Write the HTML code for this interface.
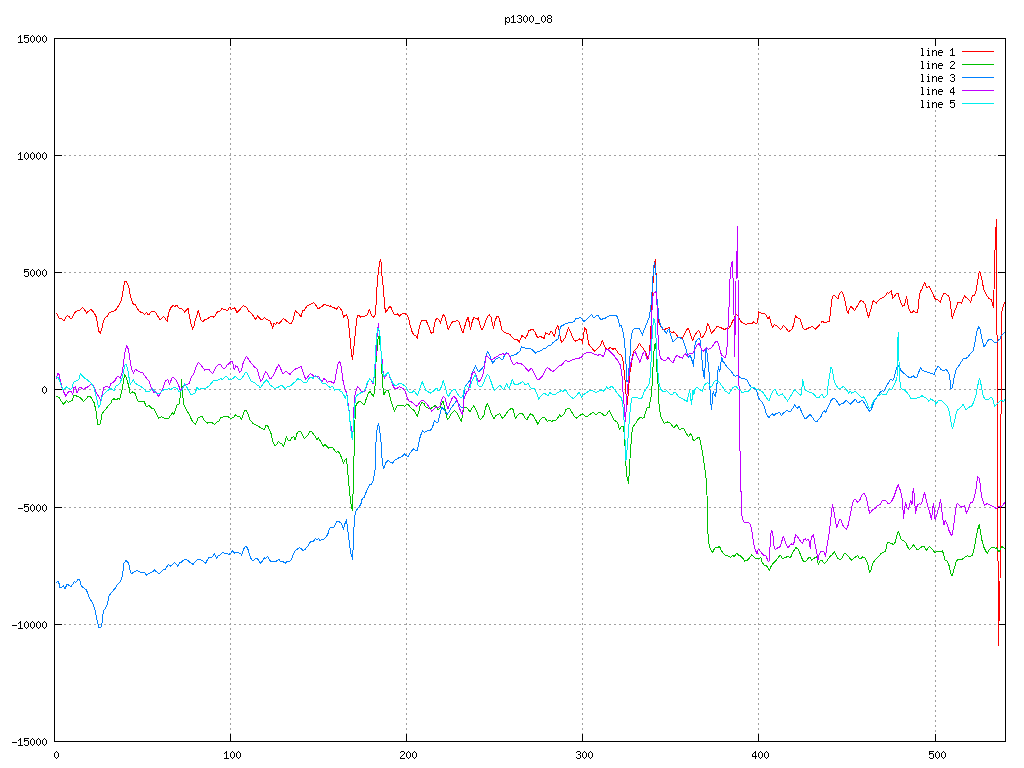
<!DOCTYPE html><html><head><meta charset="utf-8"><style>html,body{margin:0;padding:0;background:#fff;width:1024px;height:768px;overflow:hidden}svg{display:block}text{font-family:"Liberation Mono",monospace;font-size:12px;letter-spacing:-1.2px;fill:transparent;stroke:none}</style></head><body>
<svg width="1024" height="768" viewBox="0 0 1024 768">
<rect width="1024" height="768" fill="#fff"/>
<path d="M54 155.5H1006M54 272.5H1006M54 389.5H1006M54 507.5H1006M54 624.5H1006" stroke="#a0a0a0" stroke-width="1" stroke-dasharray="2 3" fill="none" shape-rendering="crispEdges"/>
<path d="M230.5 38V742M406.5 38V742M582.5 38V742M758.5 38V742M935.5 110V742" stroke="#a0a0a0" stroke-width="1" stroke-dasharray="2 3" fill="none" shape-rendering="crispEdges"/>
<path d="M54 38.5h8M1006 38.5h-8M54 155.5h8M1006 155.5h-8M54 272.5h8M1006 272.5h-8M54 389.5h8M1006 389.5h-8M54 507.5h8M1006 507.5h-8M54 624.5h8M1006 624.5h-8M54 741.5h8M1006 741.5h-8M54.5 742v-8M54.5 38v8M230.5 742v-8M230.5 38v8M406.5 742v-8M406.5 38v8M582.5 742v-8M582.5 38v8M758.5 742v-8M758.5 38v8M935.5 742v-8M935.5 38v8" stroke="#000" stroke-width="1" fill="none" shape-rendering="crispEdges"/>
<rect x="54.5" y="38.5" width="951" height="703" stroke="#000" fill="none" shape-rendering="crispEdges"/>
<path d="M20 35h1v1h-1zM19 36h2v1h-2zM18 37h1v1h-1zM20 37h1v1h-1zM20 38h1v1h-1zM20 39h1v1h-1zM20 40h1v1h-1zM20 41h1v1h-1zM18 42h5v1h-5zM24 35h5v1h-5zM24 36h1v1h-1zM24 37h4v1h-4zM24 38h1v1h-1zM28 38h1v1h-1zM28 39h1v1h-1zM28 40h1v1h-1zM24 41h1v1h-1zM28 41h1v1h-1zM25 42h3v1h-3zM32 35h1v1h-1zM31 36h1v1h-1zM33 36h1v1h-1zM30 37h1v1h-1zM34 37h1v1h-1zM30 38h1v1h-1zM34 38h1v1h-1zM30 39h1v1h-1zM34 39h1v1h-1zM30 40h1v1h-1zM34 40h1v1h-1zM31 41h1v1h-1zM33 41h1v1h-1zM32 42h1v1h-1zM38 35h1v1h-1zM37 36h1v1h-1zM39 36h1v1h-1zM36 37h1v1h-1zM40 37h1v1h-1zM36 38h1v1h-1zM40 38h1v1h-1zM36 39h1v1h-1zM40 39h1v1h-1zM36 40h1v1h-1zM40 40h1v1h-1zM37 41h1v1h-1zM39 41h1v1h-1zM38 42h1v1h-1zM44 35h1v1h-1zM43 36h1v1h-1zM45 36h1v1h-1zM42 37h1v1h-1zM46 37h1v1h-1zM42 38h1v1h-1zM46 38h1v1h-1zM42 39h1v1h-1zM46 39h1v1h-1zM42 40h1v1h-1zM46 40h1v1h-1zM43 41h1v1h-1zM45 41h1v1h-1zM44 42h1v1h-1zM20 152h1v1h-1zM19 153h2v1h-2zM18 154h1v1h-1zM20 154h1v1h-1zM20 155h1v1h-1zM20 156h1v1h-1zM20 157h1v1h-1zM20 158h1v1h-1zM18 159h5v1h-5zM26 152h1v1h-1zM25 153h1v1h-1zM27 153h1v1h-1zM24 154h1v1h-1zM28 154h1v1h-1zM24 155h1v1h-1zM28 155h1v1h-1zM24 156h1v1h-1zM28 156h1v1h-1zM24 157h1v1h-1zM28 157h1v1h-1zM25 158h1v1h-1zM27 158h1v1h-1zM26 159h1v1h-1zM32 152h1v1h-1zM31 153h1v1h-1zM33 153h1v1h-1zM30 154h1v1h-1zM34 154h1v1h-1zM30 155h1v1h-1zM34 155h1v1h-1zM30 156h1v1h-1zM34 156h1v1h-1zM30 157h1v1h-1zM34 157h1v1h-1zM31 158h1v1h-1zM33 158h1v1h-1zM32 159h1v1h-1zM38 152h1v1h-1zM37 153h1v1h-1zM39 153h1v1h-1zM36 154h1v1h-1zM40 154h1v1h-1zM36 155h1v1h-1zM40 155h1v1h-1zM36 156h1v1h-1zM40 156h1v1h-1zM36 157h1v1h-1zM40 157h1v1h-1zM37 158h1v1h-1zM39 158h1v1h-1zM38 159h1v1h-1zM44 152h1v1h-1zM43 153h1v1h-1zM45 153h1v1h-1zM42 154h1v1h-1zM46 154h1v1h-1zM42 155h1v1h-1zM46 155h1v1h-1zM42 156h1v1h-1zM46 156h1v1h-1zM42 157h1v1h-1zM46 157h1v1h-1zM43 158h1v1h-1zM45 158h1v1h-1zM44 159h1v1h-1zM24 269h5v1h-5zM24 270h1v1h-1zM24 271h4v1h-4zM24 272h1v1h-1zM28 272h1v1h-1zM28 273h1v1h-1zM28 274h1v1h-1zM24 275h1v1h-1zM28 275h1v1h-1zM25 276h3v1h-3zM32 269h1v1h-1zM31 270h1v1h-1zM33 270h1v1h-1zM30 271h1v1h-1zM34 271h1v1h-1zM30 272h1v1h-1zM34 272h1v1h-1zM30 273h1v1h-1zM34 273h1v1h-1zM30 274h1v1h-1zM34 274h1v1h-1zM31 275h1v1h-1zM33 275h1v1h-1zM32 276h1v1h-1zM38 269h1v1h-1zM37 270h1v1h-1zM39 270h1v1h-1zM36 271h1v1h-1zM40 271h1v1h-1zM36 272h1v1h-1zM40 272h1v1h-1zM36 273h1v1h-1zM40 273h1v1h-1zM36 274h1v1h-1zM40 274h1v1h-1zM37 275h1v1h-1zM39 275h1v1h-1zM38 276h1v1h-1zM44 269h1v1h-1zM43 270h1v1h-1zM45 270h1v1h-1zM42 271h1v1h-1zM46 271h1v1h-1zM42 272h1v1h-1zM46 272h1v1h-1zM42 273h1v1h-1zM46 273h1v1h-1zM42 274h1v1h-1zM46 274h1v1h-1zM43 275h1v1h-1zM45 275h1v1h-1zM44 276h1v1h-1zM44 386h1v1h-1zM43 387h1v1h-1zM45 387h1v1h-1zM42 388h1v1h-1zM46 388h1v1h-1zM42 389h1v1h-1zM46 389h1v1h-1zM42 390h1v1h-1zM46 390h1v1h-1zM42 391h1v1h-1zM46 391h1v1h-1zM43 392h1v1h-1zM45 392h1v1h-1zM44 393h1v1h-1zM18 508h5v1h-5zM24 504h5v1h-5zM24 505h1v1h-1zM24 506h4v1h-4zM24 507h1v1h-1zM28 507h1v1h-1zM28 508h1v1h-1zM28 509h1v1h-1zM24 510h1v1h-1zM28 510h1v1h-1zM25 511h3v1h-3zM32 504h1v1h-1zM31 505h1v1h-1zM33 505h1v1h-1zM30 506h1v1h-1zM34 506h1v1h-1zM30 507h1v1h-1zM34 507h1v1h-1zM30 508h1v1h-1zM34 508h1v1h-1zM30 509h1v1h-1zM34 509h1v1h-1zM31 510h1v1h-1zM33 510h1v1h-1zM32 511h1v1h-1zM38 504h1v1h-1zM37 505h1v1h-1zM39 505h1v1h-1zM36 506h1v1h-1zM40 506h1v1h-1zM36 507h1v1h-1zM40 507h1v1h-1zM36 508h1v1h-1zM40 508h1v1h-1zM36 509h1v1h-1zM40 509h1v1h-1zM37 510h1v1h-1zM39 510h1v1h-1zM38 511h1v1h-1zM44 504h1v1h-1zM43 505h1v1h-1zM45 505h1v1h-1zM42 506h1v1h-1zM46 506h1v1h-1zM42 507h1v1h-1zM46 507h1v1h-1zM42 508h1v1h-1zM46 508h1v1h-1zM42 509h1v1h-1zM46 509h1v1h-1zM43 510h1v1h-1zM45 510h1v1h-1zM44 511h1v1h-1zM12 625h5v1h-5zM20 621h1v1h-1zM19 622h2v1h-2zM18 623h1v1h-1zM20 623h1v1h-1zM20 624h1v1h-1zM20 625h1v1h-1zM20 626h1v1h-1zM20 627h1v1h-1zM18 628h5v1h-5zM26 621h1v1h-1zM25 622h1v1h-1zM27 622h1v1h-1zM24 623h1v1h-1zM28 623h1v1h-1zM24 624h1v1h-1zM28 624h1v1h-1zM24 625h1v1h-1zM28 625h1v1h-1zM24 626h1v1h-1zM28 626h1v1h-1zM25 627h1v1h-1zM27 627h1v1h-1zM26 628h1v1h-1zM32 621h1v1h-1zM31 622h1v1h-1zM33 622h1v1h-1zM30 623h1v1h-1zM34 623h1v1h-1zM30 624h1v1h-1zM34 624h1v1h-1zM30 625h1v1h-1zM34 625h1v1h-1zM30 626h1v1h-1zM34 626h1v1h-1zM31 627h1v1h-1zM33 627h1v1h-1zM32 628h1v1h-1zM38 621h1v1h-1zM37 622h1v1h-1zM39 622h1v1h-1zM36 623h1v1h-1zM40 623h1v1h-1zM36 624h1v1h-1zM40 624h1v1h-1zM36 625h1v1h-1zM40 625h1v1h-1zM36 626h1v1h-1zM40 626h1v1h-1zM37 627h1v1h-1zM39 627h1v1h-1zM38 628h1v1h-1zM44 621h1v1h-1zM43 622h1v1h-1zM45 622h1v1h-1zM42 623h1v1h-1zM46 623h1v1h-1zM42 624h1v1h-1zM46 624h1v1h-1zM42 625h1v1h-1zM46 625h1v1h-1zM42 626h1v1h-1zM46 626h1v1h-1zM43 627h1v1h-1zM45 627h1v1h-1zM44 628h1v1h-1zM12 742h5v1h-5zM20 738h1v1h-1zM19 739h2v1h-2zM18 740h1v1h-1zM20 740h1v1h-1zM20 741h1v1h-1zM20 742h1v1h-1zM20 743h1v1h-1zM20 744h1v1h-1zM18 745h5v1h-5zM24 738h5v1h-5zM24 739h1v1h-1zM24 740h4v1h-4zM24 741h1v1h-1zM28 741h1v1h-1zM28 742h1v1h-1zM28 743h1v1h-1zM24 744h1v1h-1zM28 744h1v1h-1zM25 745h3v1h-3zM32 738h1v1h-1zM31 739h1v1h-1zM33 739h1v1h-1zM30 740h1v1h-1zM34 740h1v1h-1zM30 741h1v1h-1zM34 741h1v1h-1zM30 742h1v1h-1zM34 742h1v1h-1zM30 743h1v1h-1zM34 743h1v1h-1zM31 744h1v1h-1zM33 744h1v1h-1zM32 745h1v1h-1zM38 738h1v1h-1zM37 739h1v1h-1zM39 739h1v1h-1zM36 740h1v1h-1zM40 740h1v1h-1zM36 741h1v1h-1zM40 741h1v1h-1zM36 742h1v1h-1zM40 742h1v1h-1zM36 743h1v1h-1zM40 743h1v1h-1zM37 744h1v1h-1zM39 744h1v1h-1zM38 745h1v1h-1zM44 738h1v1h-1zM43 739h1v1h-1zM45 739h1v1h-1zM42 740h1v1h-1zM46 740h1v1h-1zM42 741h1v1h-1zM46 741h1v1h-1zM42 742h1v1h-1zM46 742h1v1h-1zM42 743h1v1h-1zM46 743h1v1h-1zM43 744h1v1h-1zM45 744h1v1h-1zM44 745h1v1h-1zM56 751h1v1h-1zM55 752h1v1h-1zM57 752h1v1h-1zM54 753h1v1h-1zM58 753h1v1h-1zM54 754h1v1h-1zM58 754h1v1h-1zM54 755h1v1h-1zM58 755h1v1h-1zM54 756h1v1h-1zM58 756h1v1h-1zM55 757h1v1h-1zM57 757h1v1h-1zM56 758h1v1h-1zM226 751h1v1h-1zM225 752h2v1h-2zM224 753h1v1h-1zM226 753h1v1h-1zM226 754h1v1h-1zM226 755h1v1h-1zM226 756h1v1h-1zM226 757h1v1h-1zM224 758h5v1h-5zM232 751h1v1h-1zM231 752h1v1h-1zM233 752h1v1h-1zM230 753h1v1h-1zM234 753h1v1h-1zM230 754h1v1h-1zM234 754h1v1h-1zM230 755h1v1h-1zM234 755h1v1h-1zM230 756h1v1h-1zM234 756h1v1h-1zM231 757h1v1h-1zM233 757h1v1h-1zM232 758h1v1h-1zM238 751h1v1h-1zM237 752h1v1h-1zM239 752h1v1h-1zM236 753h1v1h-1zM240 753h1v1h-1zM236 754h1v1h-1zM240 754h1v1h-1zM236 755h1v1h-1zM240 755h1v1h-1zM236 756h1v1h-1zM240 756h1v1h-1zM237 757h1v1h-1zM239 757h1v1h-1zM238 758h1v1h-1zM401 751h3v1h-3zM400 752h1v1h-1zM404 752h1v1h-1zM404 753h1v1h-1zM403 754h1v1h-1zM402 755h1v1h-1zM401 756h1v1h-1zM400 757h1v1h-1zM400 758h5v1h-5zM408 751h1v1h-1zM407 752h1v1h-1zM409 752h1v1h-1zM406 753h1v1h-1zM410 753h1v1h-1zM406 754h1v1h-1zM410 754h1v1h-1zM406 755h1v1h-1zM410 755h1v1h-1zM406 756h1v1h-1zM410 756h1v1h-1zM407 757h1v1h-1zM409 757h1v1h-1zM408 758h1v1h-1zM414 751h1v1h-1zM413 752h1v1h-1zM415 752h1v1h-1zM412 753h1v1h-1zM416 753h1v1h-1zM412 754h1v1h-1zM416 754h1v1h-1zM412 755h1v1h-1zM416 755h1v1h-1zM412 756h1v1h-1zM416 756h1v1h-1zM413 757h1v1h-1zM415 757h1v1h-1zM414 758h1v1h-1zM577 751h3v1h-3zM576 752h1v1h-1zM580 752h1v1h-1zM580 753h1v1h-1zM578 754h2v1h-2zM580 755h1v1h-1zM580 756h1v1h-1zM576 757h1v1h-1zM580 757h1v1h-1zM577 758h3v1h-3zM584 751h1v1h-1zM583 752h1v1h-1zM585 752h1v1h-1zM582 753h1v1h-1zM586 753h1v1h-1zM582 754h1v1h-1zM586 754h1v1h-1zM582 755h1v1h-1zM586 755h1v1h-1zM582 756h1v1h-1zM586 756h1v1h-1zM583 757h1v1h-1zM585 757h1v1h-1zM584 758h1v1h-1zM590 751h1v1h-1zM589 752h1v1h-1zM591 752h1v1h-1zM588 753h1v1h-1zM592 753h1v1h-1zM588 754h1v1h-1zM592 754h1v1h-1zM588 755h1v1h-1zM592 755h1v1h-1zM588 756h1v1h-1zM592 756h1v1h-1zM589 757h1v1h-1zM591 757h1v1h-1zM590 758h1v1h-1zM755 751h1v1h-1zM754 752h2v1h-2zM753 753h1v1h-1zM755 753h1v1h-1zM752 754h1v1h-1zM755 754h1v1h-1zM752 755h1v1h-1zM755 755h1v1h-1zM752 756h5v1h-5zM755 757h1v1h-1zM755 758h1v1h-1zM760 751h1v1h-1zM759 752h1v1h-1zM761 752h1v1h-1zM758 753h1v1h-1zM762 753h1v1h-1zM758 754h1v1h-1zM762 754h1v1h-1zM758 755h1v1h-1zM762 755h1v1h-1zM758 756h1v1h-1zM762 756h1v1h-1zM759 757h1v1h-1zM761 757h1v1h-1zM760 758h1v1h-1zM766 751h1v1h-1zM765 752h1v1h-1zM767 752h1v1h-1zM764 753h1v1h-1zM768 753h1v1h-1zM764 754h1v1h-1zM768 754h1v1h-1zM764 755h1v1h-1zM768 755h1v1h-1zM764 756h1v1h-1zM768 756h1v1h-1zM765 757h1v1h-1zM767 757h1v1h-1zM766 758h1v1h-1zM929 751h5v1h-5zM929 752h1v1h-1zM929 753h4v1h-4zM929 754h1v1h-1zM933 754h1v1h-1zM933 755h1v1h-1zM933 756h1v1h-1zM929 757h1v1h-1zM933 757h1v1h-1zM930 758h3v1h-3zM937 751h1v1h-1zM936 752h1v1h-1zM938 752h1v1h-1zM935 753h1v1h-1zM939 753h1v1h-1zM935 754h1v1h-1zM939 754h1v1h-1zM935 755h1v1h-1zM939 755h1v1h-1zM935 756h1v1h-1zM939 756h1v1h-1zM936 757h1v1h-1zM938 757h1v1h-1zM937 758h1v1h-1zM943 751h1v1h-1zM942 752h1v1h-1zM944 752h1v1h-1zM941 753h1v1h-1zM945 753h1v1h-1zM941 754h1v1h-1zM945 754h1v1h-1zM941 755h1v1h-1zM945 755h1v1h-1zM941 756h1v1h-1zM945 756h1v1h-1zM942 757h1v1h-1zM944 757h1v1h-1zM943 758h1v1h-1zM505 17h1v1h-1zM507 17h2v1h-2zM505 18h2v1h-2zM509 18h1v1h-1zM505 19h1v1h-1zM509 19h1v1h-1zM505 20h1v1h-1zM509 20h1v1h-1zM505 21h2v1h-2zM509 21h1v1h-1zM505 22h1v1h-1zM507 22h2v1h-2zM505 23h1v1h-1zM505 24h1v1h-1zM513 15h1v1h-1zM512 16h2v1h-2zM511 17h1v1h-1zM513 17h1v1h-1zM513 18h1v1h-1zM513 19h1v1h-1zM513 20h1v1h-1zM513 21h1v1h-1zM511 22h5v1h-5zM518 15h3v1h-3zM517 16h1v1h-1zM521 16h1v1h-1zM521 17h1v1h-1zM519 18h2v1h-2zM521 19h1v1h-1zM521 20h1v1h-1zM517 21h1v1h-1zM521 21h1v1h-1zM518 22h3v1h-3zM525 15h1v1h-1zM524 16h1v1h-1zM526 16h1v1h-1zM523 17h1v1h-1zM527 17h1v1h-1zM523 18h1v1h-1zM527 18h1v1h-1zM523 19h1v1h-1zM527 19h1v1h-1zM523 20h1v1h-1zM527 20h1v1h-1zM524 21h1v1h-1zM526 21h1v1h-1zM525 22h1v1h-1zM531 15h1v1h-1zM530 16h1v1h-1zM532 16h1v1h-1zM529 17h1v1h-1zM533 17h1v1h-1zM529 18h1v1h-1zM533 18h1v1h-1zM529 19h1v1h-1zM533 19h1v1h-1zM529 20h1v1h-1zM533 20h1v1h-1zM530 21h1v1h-1zM532 21h1v1h-1zM531 22h1v1h-1zM535 23h5v1h-5zM543 15h1v1h-1zM542 16h1v1h-1zM544 16h1v1h-1zM541 17h1v1h-1zM545 17h1v1h-1zM541 18h1v1h-1zM545 18h1v1h-1zM541 19h1v1h-1zM545 19h1v1h-1zM541 20h1v1h-1zM545 20h1v1h-1zM542 21h1v1h-1zM544 21h1v1h-1zM543 22h1v1h-1zM548 15h3v1h-3zM547 16h1v1h-1zM551 16h1v1h-1zM547 17h1v1h-1zM551 17h1v1h-1zM548 18h3v1h-3zM547 19h1v1h-1zM551 19h1v1h-1zM547 20h1v1h-1zM551 20h1v1h-1zM547 21h1v1h-1zM551 21h1v1h-1zM548 22h3v1h-3zM921 48h2v1h-2zM922 49h1v1h-1zM922 50h1v1h-1zM922 51h1v1h-1zM922 52h1v1h-1zM922 53h1v1h-1zM922 54h1v1h-1zM921 55h3v1h-3zM928 48h1v1h-1zM927 50h2v1h-2zM928 51h1v1h-1zM928 52h1v1h-1zM928 53h1v1h-1zM928 54h1v1h-1zM927 55h3v1h-3zM932 50h1v1h-1zM934 50h2v1h-2zM932 51h2v1h-2zM936 51h1v1h-1zM932 52h1v1h-1zM936 52h1v1h-1zM932 53h1v1h-1zM936 53h1v1h-1zM932 54h1v1h-1zM936 54h1v1h-1zM932 55h1v1h-1zM936 55h1v1h-1zM939 50h3v1h-3zM938 51h1v1h-1zM942 51h1v1h-1zM938 52h5v1h-5zM938 53h1v1h-1zM938 54h1v1h-1zM939 55h3v1h-3zM952 48h1v1h-1zM951 49h2v1h-2zM950 50h1v1h-1zM952 50h1v1h-1zM952 51h1v1h-1zM952 52h1v1h-1zM952 53h1v1h-1zM952 54h1v1h-1zM950 55h5v1h-5zM921 61h2v1h-2zM922 62h1v1h-1zM922 63h1v1h-1zM922 64h1v1h-1zM922 65h1v1h-1zM922 66h1v1h-1zM922 67h1v1h-1zM921 68h3v1h-3zM928 61h1v1h-1zM927 63h2v1h-2zM928 64h1v1h-1zM928 65h1v1h-1zM928 66h1v1h-1zM928 67h1v1h-1zM927 68h3v1h-3zM932 63h1v1h-1zM934 63h2v1h-2zM932 64h2v1h-2zM936 64h1v1h-1zM932 65h1v1h-1zM936 65h1v1h-1zM932 66h1v1h-1zM936 66h1v1h-1zM932 67h1v1h-1zM936 67h1v1h-1zM932 68h1v1h-1zM936 68h1v1h-1zM939 63h3v1h-3zM938 64h1v1h-1zM942 64h1v1h-1zM938 65h5v1h-5zM938 66h1v1h-1zM938 67h1v1h-1zM939 68h3v1h-3zM951 61h3v1h-3zM950 62h1v1h-1zM954 62h1v1h-1zM954 63h1v1h-1zM953 64h1v1h-1zM952 65h1v1h-1zM951 66h1v1h-1zM950 67h1v1h-1zM950 68h5v1h-5zM921 74h2v1h-2zM922 75h1v1h-1zM922 76h1v1h-1zM922 77h1v1h-1zM922 78h1v1h-1zM922 79h1v1h-1zM922 80h1v1h-1zM921 81h3v1h-3zM928 74h1v1h-1zM927 76h2v1h-2zM928 77h1v1h-1zM928 78h1v1h-1zM928 79h1v1h-1zM928 80h1v1h-1zM927 81h3v1h-3zM932 76h1v1h-1zM934 76h2v1h-2zM932 77h2v1h-2zM936 77h1v1h-1zM932 78h1v1h-1zM936 78h1v1h-1zM932 79h1v1h-1zM936 79h1v1h-1zM932 80h1v1h-1zM936 80h1v1h-1zM932 81h1v1h-1zM936 81h1v1h-1zM939 76h3v1h-3zM938 77h1v1h-1zM942 77h1v1h-1zM938 78h5v1h-5zM938 79h1v1h-1zM938 80h1v1h-1zM939 81h3v1h-3zM951 74h3v1h-3zM950 75h1v1h-1zM954 75h1v1h-1zM954 76h1v1h-1zM952 77h2v1h-2zM954 78h1v1h-1zM954 79h1v1h-1zM950 80h1v1h-1zM954 80h1v1h-1zM951 81h3v1h-3zM921 87h2v1h-2zM922 88h1v1h-1zM922 89h1v1h-1zM922 90h1v1h-1zM922 91h1v1h-1zM922 92h1v1h-1zM922 93h1v1h-1zM921 94h3v1h-3zM928 87h1v1h-1zM927 89h2v1h-2zM928 90h1v1h-1zM928 91h1v1h-1zM928 92h1v1h-1zM928 93h1v1h-1zM927 94h3v1h-3zM932 89h1v1h-1zM934 89h2v1h-2zM932 90h2v1h-2zM936 90h1v1h-1zM932 91h1v1h-1zM936 91h1v1h-1zM932 92h1v1h-1zM936 92h1v1h-1zM932 93h1v1h-1zM936 93h1v1h-1zM932 94h1v1h-1zM936 94h1v1h-1zM939 89h3v1h-3zM938 90h1v1h-1zM942 90h1v1h-1zM938 91h5v1h-5zM938 92h1v1h-1zM938 93h1v1h-1zM939 94h3v1h-3zM953 87h1v1h-1zM952 88h2v1h-2zM951 89h1v1h-1zM953 89h1v1h-1zM950 90h1v1h-1zM953 90h1v1h-1zM950 91h1v1h-1zM953 91h1v1h-1zM950 92h5v1h-5zM953 93h1v1h-1zM953 94h1v1h-1zM921 100h2v1h-2zM922 101h1v1h-1zM922 102h1v1h-1zM922 103h1v1h-1zM922 104h1v1h-1zM922 105h1v1h-1zM922 106h1v1h-1zM921 107h3v1h-3zM928 100h1v1h-1zM927 102h2v1h-2zM928 103h1v1h-1zM928 104h1v1h-1zM928 105h1v1h-1zM928 106h1v1h-1zM927 107h3v1h-3zM932 102h1v1h-1zM934 102h2v1h-2zM932 103h2v1h-2zM936 103h1v1h-1zM932 104h1v1h-1zM936 104h1v1h-1zM932 105h1v1h-1zM936 105h1v1h-1zM932 106h1v1h-1zM936 106h1v1h-1zM932 107h1v1h-1zM936 107h1v1h-1zM939 102h3v1h-3zM938 103h1v1h-1zM942 103h1v1h-1zM938 104h5v1h-5zM938 105h1v1h-1zM938 106h1v1h-1zM939 107h3v1h-3zM950 100h5v1h-5zM950 101h1v1h-1zM950 102h4v1h-4zM950 103h1v1h-1zM954 103h1v1h-1zM954 104h1v1h-1zM954 105h1v1h-1zM950 106h1v1h-1zM954 106h1v1h-1zM951 107h3v1h-3z" fill="#000" shape-rendering="crispEdges"/>
<g><text x="18" y="43">15000</text><text x="18" y="160">10000</text><text x="24" y="277">5000</text><text x="42" y="394">0</text><text x="18" y="512">-5000</text><text x="12" y="629">-10000</text><text x="12" y="746">-15000</text><text x="54" y="759">0</text><text x="224" y="759">100</text><text x="400" y="759">200</text><text x="576" y="759">300</text><text x="752" y="759">400</text><text x="929" y="759">500</text><text x="505" y="23">p1300_08</text><text x="920" y="56">line 1</text><text x="920" y="69">line 2</text><text x="920" y="82">line 3</text><text x="920" y="95">line 4</text><text x="920" y="108">line 5</text></g>
<path d="M962 51.5H994" stroke="#ff0000" shape-rendering="crispEdges"/>
<path d="M962 64.5H994" stroke="#00c000" shape-rendering="crispEdges"/>
<path d="M962 77.5H994" stroke="#0080ff" shape-rendering="crispEdges"/>
<path d="M962 90.5H994" stroke="#c000ff" shape-rendering="crispEdges"/>
<path d="M962 103.5H994" stroke="#00eeee" shape-rendering="crispEdges"/>
<path d="M56.0 313.12 57.75 315.0 59.25 318.75 60.88 318.12 62.75 320.0 64.62 320.0 65.88 317.5 67.12 315.62 68.75 316.25 70.25 318.12 72.12 318.12 74.0 313.75 75.88 311.25 78.38 310.62 80.25 310.0 82.5 307.5 84.62 310.0 86.5 313.12 88.38 311.25 90.88 309.38 92.75 311.25 94.62 313.75 96.5 317.5 97.75 325.0 98.75 331.25 100.25 333.12 101.5 330.0 103.38 321.25 105.25 317.5 107.12 316.25 109.0 313.12 111.5 311.88 113.38 311.25 115.25 310.62 117.12 308.12 119.0 305.0 120.88 301.25 122.12 296.25 123.38 288.75 124.62 281.88 126.5 281.88 127.75 284.38 129.0 288.12 130.25 295.0 131.5 300.0 133.38 304.38 135.25 304.38 136.5 306.88 139.0 311.25 141.5 312.5 143.38 313.12 144.62 314.38 146.5 312.5 148.38 315.0 149.62 313.75 151.5 311.25 154.0 311.25 155.88 313.12 157.75 316.25 160.25 320.0 162.12 318.12 163.75 316.25 165.25 318.75 167.12 321.25 168.75 312.5 170.88 307.5 172.75 305.62 174.62 306.25 177.12 305.62 179.0 308.12 181.5 308.12 182.0 309.38 183.88 310.62 184.75 312.25 186.38 310.0 188.0 308.5 189.5 316.25 191.0 323.75 192.62 329.38 193.88 326.25 195.12 320.0 197.0 315.0 198.25 310.62 199.5 315.0 200.75 319.38 202.62 321.88 204.5 320.0 206.38 319.38 208.25 318.12 210.75 316.25 213.25 317.25 214.75 316.25 216.38 313.75 217.62 311.5 220.12 311.0 221.75 308.75 223.88 309.38 225.75 309.75 227.62 311.0 228.88 308.5 230.12 306.88 231.38 309.38 232.62 308.75 234.5 307.5 237.0 312.5 238.88 310.62 240.75 308.5 243.25 305.62 245.12 306.25 247.0 308.12 248.88 311.25 250.75 312.75 252.62 315.0 255.75 319.38 257.62 316.0 258.88 317.5 260.75 319.38 262.62 319.38 264.5 317.5 266.38 319.38 268.25 320.0 270.12 321.25 271.38 324.38 272.62 328.12 273.88 323.12 275.5 324.38 277.0 322.5 278.88 323.75 280.75 321.88 283.25 318.75 285.12 319.75 287.0 321.25 289.5 323.12 291.38 323.12 292.62 321.25 293.88 316.25 295.5 310.62 297.0 312.5 298.88 313.75 301.0 316.88 302.62 310.62 304.5 310.0 306.38 306.88 307.62 305.62 310.0 304.38 311.25 304.0 313.5 302.5 315.62 305.0 318.12 309.0 320.0 307.75 322.5 306.0 324.38 304.38 326.25 305.0 328.75 305.62 330.0 306.88 330.62 305.62 332.5 307.5 334.38 307.75 336.25 309.38 338.5 306.5 340.62 308.75 342.5 311.88 343.5 317.5 345.0 315.62 346.5 314.38 348.12 319.38 349.38 331.25 350.62 345.0 351.88 356.25 352.5 360.0 353.5 351.25 354.75 338.75 355.62 330.0 356.5 321.25 357.5 315.25 359.38 315.62 360.62 317.25 362.5 316.25 365.0 316.0 366.88 315.0 368.12 313.12 369.38 309.38 370.62 313.12 371.88 315.62 373.5 317.5 375.0 315.0 376.0 305.0 376.88 288.75 378.12 273.75 379.38 263.75 380.38 259.38 381.25 263.12 381.88 275.0 382.75 282.5 383.75 293.75 384.75 306.88 385.62 312.25 386.88 310.62 388.12 308.5 390.0 306.25 391.5 308.12 392.5 311.25 394.38 315.0 396.25 314.38 397.5 313.75 399.38 316.25 401.25 314.38 403.12 313.12 405.0 313.75 406.88 315.0 408.75 318.75 410.0 325.0 411.88 331.25 413.75 335.0 415.62 335.38 417.25 338.12 418.75 330.0 420.0 325.0 421.88 320.0 423.75 320.25 426.25 320.62 428.12 325.0 430.0 330.0 431.25 333.12 433.12 332.5 434.38 325.0 435.62 320.0 436.88 318.5 438.0 319.0 439.25 320.62 440.5 323.12 441.75 318.75 443.25 314.38 444.88 316.88 446.5 323.12 448.25 329.38 449.88 326.25 451.75 322.5 453.62 321.25 455.5 321.25 457.38 320.25 459.25 322.5 461.12 328.75 463.0 333.12 464.5 327.5 466.12 321.25 468.0 317.5 469.25 322.5 470.5 329.38 472.0 322.5 473.62 317.75 475.5 318.12 477.38 319.38 478.25 317.75 479.88 325.0 482.0 330.25 483.62 326.88 485.5 321.25 487.38 316.88 489.25 314.38 491.12 317.5 492.38 323.75 493.62 328.12 494.88 321.25 496.75 316.88 498.62 316.88 500.5 323.12 501.75 330.0 503.62 331.88 506.12 333.12 508.0 333.75 509.88 334.38 511.75 336.88 513.62 338.75 515.5 339.38 517.38 339.38 519.25 342.5 520.5 338.75 522.0 335.62 523.62 336.88 525.5 338.12 527.0 335.62 529.0 330.0 530.5 330.0 533.0 329.38 534.88 331.88 536.75 336.25 538.0 338.12 539.5 336.25 541.12 336.88 543.0 337.5 544.25 338.75 545.5 332.5 547.38 333.75 549.25 334.38 551.12 331.25 552.75 333.12 554.25 336.88 556.12 328.75 558.0 325.62 559.25 331.25 560.5 339.38 561.75 342.25 563.62 340.0 565.5 336.88 566.0 335.0 567.25 331.25 568.5 327.75 570.38 331.88 572.25 336.25 574.12 340.0 576.0 341.25 577.88 340.0 579.75 338.75 581.62 340.0 582.5 343.12 583.5 335.0 584.75 327.75 586.25 330.0 587.5 336.25 588.5 343.75 590.38 346.25 592.25 348.12 594.12 351.25 596.0 350.0 597.88 348.12 599.75 346.25 601.25 343.12 602.5 340.62 603.75 344.38 605.38 347.5 606.62 349.38 608.5 348.75 610.38 347.5 611.62 348.12 612.88 349.38 614.75 348.12 616.62 350.62 617.88 353.12 619.75 354.38 621.62 355.62 622.88 360.0 623.75 367.5 624.75 376.25 625.62 388.75 626.25 397.5 626.88 406.88 627.5 400.0 628.12 395.0 628.88 385.0 629.75 373.75 630.75 368.75 631.62 362.5 632.88 355.0 634.12 350.62 636.0 349.38 637.88 346.25 639.5 343.12 641.0 346.25 642.88 348.12 644.75 351.25 646.62 353.75 647.88 360.0 648.75 356.25 649.75 350.0 650.75 332.5 651.62 310.0 652.5 293.75 653.25 277.5 654.12 266.25 654.75 261.88 655.38 259.38 656.0 272.5 656.62 292.5 657.5 306.25 658.5 318.75 659.12 323.75 661.0 326.88 663.5 330.0 666.0 328.75 667.88 328.12 669.12 327.5 670.38 331.88 672.25 332.25 674.12 331.88 676.0 333.75 677.88 336.88 680.38 337.5 682.25 338.12 684.12 335.0 686.0 331.25 687.88 328.12 689.12 330.0 690.38 333.75 691.62 338.75 692.88 340.25 694.0 337.25 695.88 333.75 698.38 330.25 699.62 331.88 700.88 336.88 702.5 337.25 704.0 335.0 705.88 331.25 707.5 323.5 709.0 326.25 710.88 331.25 711.5 333.12 713.38 331.25 715.25 328.75 717.12 326.5 719.0 326.88 720.88 327.5 722.75 328.75 724.62 329.38 726.5 328.5 728.38 328.75 730.25 326.25 732.12 322.25 734.0 318.75 735.88 314.38 737.12 315.0 738.38 316.88 740.25 320.62 742.12 322.5 744.0 323.5 745.88 324.38 747.75 323.5 749.62 323.75 751.5 324.0 753.38 321.88 755.25 323.12 757.12 323.12 758.0 318.12 758.75 311.88 760.25 312.5 762.12 313.75 764.0 313.12 765.88 314.38 767.12 316.88 768.0 318.75 769.25 316.25 770.25 320.0 771.5 325.0 772.75 327.5 774.25 324.75 775.88 325.25 777.75 326.88 779.62 328.75 780.88 329.38 782.12 328.12 783.38 325.62 785.0 327.25 786.75 329.0 788.38 331.88 790.0 330.62 791.5 329.75 793.38 325.62 794.62 320.0 795.5 315.62 797.12 317.5 799.0 318.5 800.25 319.38 801.5 323.75 802.75 327.5 804.62 329.38 806.5 329.0 808.38 328.12 810.25 327.25 812.12 326.25 813.75 327.5 815.25 329.38 817.12 327.5 819.0 325.62 820.5 323.5 822.0 321.25 823.5 321.88 825.12 323.12 827.0 321.88 829.25 321.25 830.5 312.5 831.38 302.5 832.62 296.25 833.88 295.25 835.75 296.88 838.0 299.0 839.5 293.75 841.38 291.25 843.0 293.75 844.5 298.75 845.75 305.0 847.0 310.62 848.25 313.12 849.5 308.75 850.75 306.5 852.62 308.12 854.5 310.62 856.38 307.5 858.25 304.38 859.75 301.88 861.38 300.25 863.25 301.88 865.12 304.38 866.38 309.38 867.62 315.0 868.5 317.5 869.5 313.75 871.38 307.5 873.25 300.62 874.5 301.25 876.38 303.12 878.25 300.62 880.12 298.75 882.0 298.12 883.88 296.88 885.75 295.62 887.0 292.75 888.88 293.12 890.75 291.0 891.38 290.62 892.62 298.12 894.5 296.25 896.38 293.5 898.25 293.5 899.5 298.75 900.75 302.5 902.62 306.25 904.25 305.62 905.75 300.0 906.75 296.5 907.62 303.12 908.88 308.75 910.5 312.5 912.0 312.5 913.88 310.62 915.75 312.5 917.62 312.5 918.88 300.0 920.12 291.88 922.0 288.75 923.5 285.0 924.5 282.5 925.75 285.0 927.0 288.12 928.88 286.25 930.5 288.75 932.0 291.88 933.88 296.25 935.75 300.0 937.62 299.38 938.88 300.62 940.12 302.5 941.75 298.12 943.5 293.5 945.12 293.5 947.0 295.0 948.88 296.25 949.75 298.75 950.38 303.75 951.25 311.25 952.25 318.12 953.5 314.38 955.0 310.0 956.62 306.25 957.88 302.5 959.75 302.5 961.62 303.12 962.88 299.38 964.5 295.62 966.0 297.5 967.88 298.75 969.75 300.62 970.75 302.5 971.62 297.5 972.5 295.62 974.12 295.62 975.75 293.12 976.62 287.5 977.88 280.0 979.12 272.5 979.75 271.25 980.75 275.0 981.62 278.12 982.88 285.0 984.12 290.0 985.38 293.12 987.25 296.25 989.12 298.75 991.0 299.38 992.25 302.5 993.5 307.5 994.25 281.25 995.25 240.0 996.5 219.38 998.38 645.62 1000.0 583.0 1001.62 313.0 1003.0 307.0 1004.5 302.0" stroke="#ff0000" stroke-width="1" fill="none" stroke-linejoin="round" shape-rendering="crispEdges"/>
<path d="M56.0 396.25 59.0 397.5 63.38 404.38 66.5 400.62 68.38 402.5 72.12 400.62 74.0 395.0 77.12 396.25 80.25 397.5 83.38 401.25 85.25 400.0 87.75 396.88 89.62 396.25 91.5 398.12 94.0 402.5 95.88 410.0 97.75 425.0 100.25 423.75 102.12 413.75 104.0 411.25 106.5 408.12 109.0 405.0 111.5 402.5 112.12 400.0 114.0 398.75 116.5 400.0 118.38 398.12 119.62 400.0 121.5 392.5 123.38 382.5 124.62 374.38 125.88 376.25 127.75 382.5 129.0 387.5 130.25 393.75 132.75 391.88 134.62 392.5 136.5 397.5 138.38 401.88 141.5 401.88 144.0 401.25 146.5 406.88 149.0 405.62 151.5 408.12 154.0 408.75 158.38 418.12 161.5 416.88 164.62 418.12 168.38 418.75 170.88 415.0 172.75 412.5 174.0 414.38 175.25 410.0 177.12 405.0 179.0 404.38 180.88 392.5 181.5 380.0 182.0 386.25 183.0 397.5 183.88 405.0 185.75 408.12 187.62 411.88 189.5 415.0 191.38 419.38 193.25 422.5 195.12 424.38 197.0 421.25 198.25 417.5 200.12 416.88 202.0 416.25 203.88 420.0 205.75 421.88 207.62 423.12 209.5 422.25 212.0 422.5 214.5 424.38 217.0 421.88 218.88 421.25 220.75 417.5 223.25 416.88 225.75 416.25 228.25 416.88 230.12 418.12 232.0 418.12 233.88 416.88 235.75 414.38 237.62 416.88 239.5 416.25 241.38 419.38 243.25 414.38 244.5 410.62 246.38 410.62 248.25 414.38 250.13 420.0 253.26 423.75 255.76 424.75 258.26 426.25 260.76 427.75 263.26 429.0 264.26 430.0 265.76 425.62 267.63 425.62 269.51 430.0 271.38 434.38 272.63 441.25 274.51 445.0 276.38 445.0 278.26 441.5 280.13 443.12 282.01 443.75 283.51 446.25 285.13 441.25 286.38 436.25 288.26 440.62 290.13 440.62 292.01 437.5 293.88 436.25 295.13 440.0 296.76 433.75 298.26 431.88 300.76 431.25 302.63 435.0 304.51 438.75 306.38 436.88 308.26 435.0 310.0 431.25 311.88 431.88 313.75 434.38 315.62 436.88 316.88 440.0 318.12 437.5 320.0 440.62 321.88 443.75 323.12 446.25 325.0 444.38 326.88 446.25 328.75 448.12 330.62 447.5 332.5 447.5 334.38 450.0 336.25 452.5 338.12 451.25 340.0 453.75 341.88 458.75 343.5 463.12 345.0 460.0 346.25 458.75 347.5 467.5 348.12 476.0 349.0 486.25 350.0 496.0 351.25 506.0 352.5 510.38 353.12 491.0 353.75 470.0 354.38 437.5 354.75 427.5 355.25 412.5 355.63 406.25 357.51 402.5 360.01 401.25 361.88 403.12 364.38 405.0 366.26 398.75 368.13 393.75 369.76 391.25 371.88 394.38 373.76 396.25 375.01 386.25 375.63 366.25 376.88 352.5 378.13 337.5 379.01 336.25 380.01 345.0 381.01 351.25 381.88 372.5 382.76 385.0 383.76 395.0 385.01 392.5 386.88 390.0 388.13 390.0 389.38 393.75 390.63 400.0 392.51 405.0 394.38 411.25 396.26 407.5 397.51 405.0 400.01 405.0 402.51 405.62 404.38 406.25 406.26 405.0 408.13 404.38 410.01 406.88 411.88 408.75 413.76 410.0 415.63 413.12 417.26 416.25 418.76 411.88 420.01 406.25 421.88 402.5 423.76 403.12 425.63 406.88 428.13 408.12 430.63 408.75 433.76 406.25 435.63 405.62 438.0 410.0 439.88 408.12 441.5 403.75 443.0 401.25 444.25 406.25 445.75 412.5 447.38 420.0 449.25 417.5 451.12 413.75 453.0 411.88 454.88 410.62 456.75 412.5 458.62 416.25 460.5 420.0 461.5 421.25 462.75 413.75 463.62 408.75 464.88 406.88 466.75 407.5 468.62 410.0 470.25 411.88 471.75 408.75 473.62 406.0 475.5 408.75 477.38 412.5 479.0 418.12 480.5 419.38 482.38 417.5 484.25 414.38 485.5 407.5 487.38 403.75 489.0 406.88 490.5 411.25 492.38 416.25 494.0 418.75 495.75 415.62 497.75 414.38 499.88 413.5 501.12 416.25 502.38 418.12 504.25 416.88 506.12 413.75 508.0 411.25 509.88 409.38 511.75 408.12 513.0 409.38 514.25 413.75 515.5 418.75 517.38 415.62 519.25 413.75 521.75 413.5 523.62 415.0 525.25 418.12 526.75 420.0 528.62 416.25 530.5 413.75 532.38 414.38 534.25 417.5 536.12 420.62 538.0 424.38 539.88 420.0 541.75 418.12 544.0 416.88 545.5 418.75 547.38 421.25 549.88 420.62 551.75 421.25 553.62 420.62 556.12 420.0 558.0 417.5 559.5 415.0 561.5 416.88 563.0 415.0 564.5 413.12 566.0 409.38 567.88 408.75 569.75 408.5 571.25 411.25 572.88 413.75 574.75 416.88 576.62 418.12 578.5 416.25 580.38 415.0 582.25 413.75 583.75 415.0 585.38 416.25 587.25 416.5 589.12 415.0 591.0 413.75 592.88 412.25 594.5 413.12 596.0 415.0 597.88 413.12 599.75 412.25 601.62 413.12 603.5 415.0 605.0 416.25 606.62 414.38 608.25 411.88 609.5 410.62 610.75 413.75 612.25 416.88 614.12 420.0 616.0 421.25 617.5 422.5 618.5 425.0 619.5 430.0 620.38 427.5 622.0 426.5 623.5 426.25 624.12 433.12 624.75 442.5 625.38 450.0 625.75 462.5 626.62 475.0 627.5 478.75 628.5 483.12 629.12 475.0 629.75 462.5 630.75 447.5 631.62 437.5 632.25 428.75 633.5 426.25 635.38 423.75 637.25 420.62 639.12 418.12 641.0 417.5 642.5 418.12 644.12 417.5 645.38 413.12 646.62 408.75 647.88 406.88 649.12 407.5 650.0 402.5 651.0 397.5 651.62 392.5 652.25 382.5 652.88 370.0 653.5 357.5 654.12 350.0 655.0 343.75 655.38 343.12 656.0 348.75 656.62 363.75 657.25 376.25 657.88 382.5 658.5 390.0 658.75 401.25 659.75 411.25 661.0 416.88 662.25 420.0 664.12 423.12 666.0 422.75 667.88 421.88 669.75 422.75 671.62 425.0 673.5 427.5 674.75 426.88 676.25 424.38 677.88 426.88 679.75 430.0 681.0 428.75 682.88 428.12 684.12 429.38 685.38 431.88 687.0 434.38 688.5 436.5 690.38 433.75 691.62 435.0 692.88 439.38 694.0 440.62 696.5 438.5 699.0 437.25 700.0 440.0 701.25 446.25 702.5 452.5 703.75 461.25 705.0 470.0 706.0 477.5 706.75 490.0 707.25 500.0 707.51 500.0 707.51 525.0 708.38 540.0 709.63 547.5 711.26 550.62 712.76 552.5 714.01 549.38 715.88 546.88 717.76 547.5 719.63 546.25 720.88 550.0 722.76 552.5 725.26 555.0 727.76 555.62 729.63 556.88 730.88 557.5 732.76 555.0 734.01 556.88 736.51 553.12 738.38 555.0 740.88 556.25 742.76 558.12 744.63 561.25 746.51 560.62 748.38 559.38 750.26 556.88 751.51 555.0 753.38 556.25 755.26 558.12 757.13 558.75 759.01 558.75 760.88 557.5 762.13 562.5 764.01 565.0 765.88 565.0 767.76 567.5 769.38 570.62 770.88 566.88 772.51 563.75 774.63 561.88 776.51 560.0 778.38 557.5 780.26 555.0 782.13 558.12 784.01 558.12 785.88 557.5 787.76 556.25 789.63 557.5 790.88 556.88 792.76 552.5 794.63 549.38 795.88 547.5 797.76 548.75 799.63 552.5 801.51 557.5 803.76 561.88 805.88 561.25 807.76 558.75 810.01 556.88 811.51 560.0 813.38 558.75 815.26 557.5 816.51 556.25 818.38 564.38 819.63 561.25 822.0 560.0 824.25 563.75 826.38 561.88 828.25 558.75 830.12 556.25 832.0 555.0 834.25 551.88 835.75 554.38 837.62 558.12 839.5 559.38 841.38 558.75 843.25 555.62 844.75 553.12 846.75 554.38 848.25 556.25 850.12 558.75 852.0 560.25 853.88 558.12 855.75 556.88 857.62 555.62 859.5 558.75 861.38 558.12 862.62 556.88 864.5 557.5 866.0 560.0 867.62 563.12 868.5 567.5 869.5 572.5 870.75 570.62 872.0 566.25 873.25 562.5 875.12 560.0 877.0 558.12 878.88 556.25 880.75 553.75 882.62 552.5 884.5 551.88 885.75 550.62 886.75 545.0 887.62 542.5 890.12 543.12 892.0 543.12 893.25 545.0 895.12 542.5 896.38 537.5 897.62 533.12 898.5 531.25 899.5 535.0 901.0 538.75 902.62 540.62 904.5 541.25 906.0 543.12 907.62 546.88 909.25 549.38 910.75 548.75 912.25 546.25 913.88 544.75 915.5 547.5 917.25 550.0 919.25 548.75 921.0 547.5 922.62 546.25 924.5 546.88 926.38 550.62 928.0 548.12 929.5 546.25 931.38 548.12 933.25 550.62 935.12 552.5 937.0 551.25 938.88 551.88 940.75 551.88 942.25 550.62 943.5 553.75 945.12 560.0 946.38 560.62 947.62 561.88 948.88 565.0 949.75 568.75 950.0 569.75 951.0 573.75 952.0 576.25 952.88 573.75 954.12 568.75 955.38 564.38 956.62 560.5 957.88 559.75 959.75 559.62 962.25 559.25 963.5 558.38 965.38 556.5 967.25 555.88 969.75 556.25 972.25 555.88 973.5 551.5 974.75 545.25 976.0 537.75 977.88 529.0 979.12 524.62 980.38 530.25 981.62 539.0 982.88 544.0 984.12 547.75 986.0 551.5 987.25 553.38 988.5 550.88 990.38 548.38 992.25 547.12 994.12 547.75 995.75 548.38 996.62 547.75 997.88 550.25 999.12 551.5 1000.38 549.0 1001.62 546.5 1003.5 547.75 1004.75 548.38" stroke="#00c000" stroke-width="1" fill="none" stroke-linejoin="round" shape-rendering="crispEdges"/>
<path d="M56.0 582.5 57.75 581.25 58.75 581.88 59.62 587.25 61.5 587.25 63.38 585.62 65.25 588.75 66.5 585.0 67.75 584.38 69.62 586.0 70.88 586.5 72.75 584.38 74.0 581.88 75.88 582.25 77.75 579.75 79.62 579.75 81.5 586.25 84.0 588.12 86.5 590.0 87.75 593.75 89.62 598.12 91.5 601.25 93.38 604.38 95.25 611.25 97.12 620.0 99.0 628.12 100.88 627.5 102.12 622.5 103.38 610.62 105.25 608.75 107.12 605.0 109.0 596.25 110.88 593.12 112.75 591.25 115.25 588.12 117.12 585.0 119.62 582.5 121.5 578.75 122.75 573.75 124.0 563.12 125.88 560.62 127.75 561.88 129.0 565.0 130.25 571.25 131.5 573.75 134.0 571.88 136.5 570.62 139.0 571.25 140.88 572.75 142.75 572.25 144.62 572.75 146.25 575.25 148.38 573.5 150.88 572.5 152.75 571.88 154.62 569.75 156.5 571.88 157.75 572.75 159.62 573.5 161.5 571.25 163.38 569.75 165.25 569.38 167.12 566.25 168.38 564.38 170.25 566.25 172.12 564.75 174.62 562.5 176.5 564.38 177.75 566.25 179.62 562.5 181.5 562.5 182.0 561.5 184.5 559.38 187.0 559.75 189.5 561.88 191.38 563.5 193.25 564.38 195.12 561.5 197.0 560.0 199.5 559.38 202.0 560.25 203.88 561.88 205.5 563.5 207.0 560.62 208.88 557.75 210.75 557.25 212.62 556.88 214.25 553.75 215.5 555.62 216.75 558.12 218.25 555.62 220.12 555.0 222.62 552.25 224.5 553.12 227.0 553.5 228.88 554.38 230.75 553.12 232.62 550.62 234.5 553.12 237.0 552.25 238.88 553.12 240.75 554.0 241.75 555.25 243.25 550.0 245.12 546.5 246.75 546.88 248.25 550.0 249.5 555.0 251.38 559.38 253.25 560.62 255.75 558.5 257.62 558.75 259.5 561.88 260.75 563.12 262.62 560.62 264.5 557.75 265.75 558.5 267.62 556.25 269.5 559.75 271.38 561.88 273.25 561.88 275.75 561.5 277.62 560.25 278.88 559.38 280.75 561.88 282.62 561.5 283.88 562.25 285.5 563.12 287.0 561.5 289.5 561.5 290.75 560.62 292.62 556.25 295.12 550.62 297.0 549.38 299.5 547.5 301.38 548.75 303.25 550.62 305.12 549.38 307.0 546.88 308.25 545.62 310.0 542.25 311.88 541.25 313.75 541.0 315.25 538.5 316.88 539.75 318.5 538.5 320.25 541.0 321.88 539.12 323.5 539.75 325.0 537.88 327.25 535.38 328.5 532.25 329.38 528.5 330.62 527.25 332.5 527.88 334.38 526.62 335.62 524.12 336.88 521.62 338.75 521.62 340.0 522.25 341.25 523.5 342.5 526.62 343.5 529.12 344.75 524.12 345.62 522.25 346.5 519.75 347.5 528.5 348.75 537.25 349.75 546.0 350.62 552.25 351.88 556.62 352.5 559.12 353.12 548.5 353.75 532.25 354.38 519.75 355.25 513.5 356.25 510.38 357.5 508.75 359.38 506.62 361.0 503.5 361.88 499.75 363.12 497.88 364.38 497.25 365.62 493.5 366.88 490.38 368.12 487.88 369.38 484.75 371.25 484.12 373.12 481.0 375.01 470.0 375.63 462.5 375.63 450.0 376.51 432.5 377.51 426.88 378.51 423.12 379.38 428.75 380.26 435.0 381.26 443.75 381.88 456.25 382.76 465.0 383.76 468.12 385.01 465.0 386.26 461.88 388.13 460.62 390.01 461.88 392.51 463.12 394.38 460.62 396.26 459.38 398.13 458.12 400.01 457.5 402.51 456.25 404.38 453.75 406.26 455.62 408.13 456.25 410.01 453.12 411.88 450.62 413.76 448.75 415.63 450.62 417.26 450.62 418.76 443.12 420.01 437.5 421.26 433.75 422.51 430.62 424.38 432.25 426.26 431.25 428.13 430.62 430.63 430.0 432.51 427.5 433.76 422.5 434.76 420.62 436.26 422.5 438.0 421.88 439.25 417.5 440.5 411.25 441.75 407.5 443.62 408.75 445.5 411.88 447.38 414.38 449.25 411.25 451.12 408.12 453.0 405.62 454.88 403.12 456.75 400.62 458.0 403.12 459.88 405.62 461.75 407.5 463.0 408.12 463.62 396.25 464.88 387.5 466.12 384.38 468.0 383.12 469.88 380.0 471.12 376.25 472.38 372.5 473.62 370.0 475.5 365.62 477.0 368.75 478.62 371.88 480.5 370.0 482.38 368.12 484.25 365.62 485.51 358.75 486.51 353.75 487.38 351.88 488.63 353.12 490.26 356.25 491.13 359.38 492.76 363.12 494.26 361.25 496.13 358.75 498.01 358.12 499.88 357.5 501.13 359.38 502.38 360.0 503.63 357.5 504.88 354.38 506.76 352.5 508.63 354.38 510.51 356.25 512.38 355.0 514.26 355.0 516.13 354.38 518.01 352.5 519.88 351.25 521.51 346.88 523.63 347.5 525.51 348.12 528.01 348.75 530.51 348.5 532.38 350.0 534.26 351.88 535.51 353.12 537.38 351.88 539.26 351.25 541.13 350.62 543.63 348.75 545.51 348.12 547.38 346.88 549.26 345.0 551.13 345.0 553.01 342.5 554.88 341.25 557.38 339.38 558.63 338.12 559.26 332.5 560.26 327.5 561.76 325.62 563.63 325.0 566.0 323.5 568.5 322.75 571.0 322.25 574.12 321.88 576.0 318.5 578.5 318.12 580.75 317.5 582.25 319.38 583.75 321.5 586.0 320.0 588.5 317.5 590.38 315.62 591.62 314.38 592.88 316.88 594.75 317.5 596.62 315.62 598.25 315.25 599.75 318.12 600.75 320.0 602.88 318.75 605.38 318.12 607.25 316.88 609.12 316.0 611.0 315.62 613.5 315.25 616.0 315.25 617.25 316.88 618.5 320.25 619.75 326.25 621.0 325.0 622.25 328.75 623.5 333.75 624.75 345.0 625.75 357.5 626.38 372.5 627.0 381.88 627.88 381.25 628.88 370.0 629.75 358.75 630.38 351.25 631.0 338.75 632.25 331.25 634.12 328.75 636.62 328.12 639.12 328.75 641.0 331.88 642.5 335.0 644.12 330.0 646.0 325.0 647.88 320.62 649.12 317.5 650.0 312.5 651.0 305.0 652.0 292.5 652.88 278.75 653.5 266.25 654.75 262.5 655.38 268.75 656.0 275.0 656.62 291.25 657.25 302.5 658.25 310.0 659.12 320.0 661.0 326.25 662.88 328.75 664.75 331.25 666.62 333.12 667.88 330.0 669.12 329.38 671.0 336.25 672.88 341.25 674.75 340.62 676.62 338.12 678.5 337.5 681.0 338.12 682.88 340.0 684.12 343.12 686.0 348.75 687.25 353.75 688.5 357.5 689.75 355.0 691.0 357.5 692.25 361.25 693.5 366.25 694.0 359.38 694.62 350.0 695.25 342.5 697.12 340.0 699.0 338.12 700.0 340.0 700.88 346.25 701.75 357.5 702.75 368.75 704.0 376.88 704.62 378.12 705.25 362.5 705.88 348.75 706.5 347.5 707.5 357.5 708.38 365.0 709.25 375.0 710.0 390.0 710.5 400.0 711.5 410.0 712.12 402.5 712.75 393.75 713.38 391.25 714.25 395.0 715.25 396.25 716.25 391.25 717.12 382.5 717.75 372.5 718.38 366.25 719.0 368.75 719.62 371.88 720.25 368.12 720.88 362.5 721.75 357.5 722.75 361.25 724.62 363.12 726.5 366.25 728.38 368.75 730.25 370.0 732.12 372.5 734.0 375.62 735.88 376.25 737.12 375.0 738.38 376.25 740.25 377.5 742.12 378.5 744.0 378.75 746.5 379.38 747.75 381.25 749.0 383.75 750.88 386.88 752.75 387.5 754.62 388.75 755.88 390.0 757.12 392.5 758.38 397.5 759.62 399.38 761.5 401.25 763.38 405.0 764.62 407.5 766.25 413.75 767.75 416.25 769.0 417.5 770.88 415.0 772.5 413.75 774.0 415.62 775.88 413.75 777.75 413.12 779.62 412.5 781.5 415.62 783.38 413.12 785.25 411.88 787.12 410.0 789.0 411.88 790.88 411.25 792.75 408.12 794.62 405.0 795.88 406.88 797.5 408.12 799.0 406.25 800.25 408.75 802.12 413.12 803.75 416.88 805.25 418.75 807.12 417.5 808.75 415.62 810.25 414.38 812.12 416.88 813.75 419.38 815.25 421.25 817.12 421.88 818.38 419.38 819.62 418.12 820.88 416.88 822.0 413.75 823.25 411.25 824.5 410.62 825.5 412.5 827.0 409.38 828.25 406.25 829.5 403.75 831.0 400.62 832.62 398.75 834.25 398.12 835.75 399.38 837.62 402.5 839.5 405.0 841.38 403.75 843.25 403.12 845.12 401.25 846.38 400.62 848.25 402.5 850.12 404.38 852.0 402.5 853.88 400.62 855.5 399.38 857.0 401.88 858.88 402.5 860.75 401.25 862.0 400.25 863.25 401.25 865.12 404.38 867.0 407.5 868.25 409.38 869.5 411.25 871.0 410.0 872.0 407.5 873.25 403.75 874.5 400.62 876.0 398.75 877.62 396.25 879.5 393.12 881.0 391.25 882.62 390.62 883.88 391.25 885.12 388.75 887.0 385.0 888.25 383.12 890.12 380.0 891.38 379.38 892.62 380.62 893.88 378.12 894.75 375.0 895.75 371.25 897.0 366.88 898.25 365.62 899.5 366.88 900.75 370.0 902.62 372.5 904.5 373.75 906.38 375.62 908.25 376.88 910.12 378.12 911.75 376.88 913.25 375.62 915.12 377.5 917.0 376.88 918.25 373.75 919.5 370.0 920.5 367.5 921.75 369.75 923.25 370.62 925.12 371.25 927.0 371.88 928.88 372.5 930.75 373.12 932.62 373.75 933.88 375.0 935.12 371.25 936.75 368.12 938.25 366.25 939.5 367.5 940.75 369.38 942.62 370.62 944.25 370.62 945.75 369.38 947.0 370.62 948.88 373.12 949.75 377.5 950.38 382.5 951.0 388.75 952.25 387.5 953.25 382.5 954.12 377.5 955.0 373.75 956.0 370.0 957.88 366.88 959.75 364.38 961.62 361.25 963.5 358.5 965.75 358.5 967.88 356.88 969.75 354.38 971.62 352.5 973.25 350.62 974.12 346.25 975.0 342.5 976.0 336.25 977.25 330.0 978.75 326.88 979.75 327.5 980.75 332.5 981.62 337.5 982.88 342.5 984.12 346.88 985.38 345.0 986.62 342.5 988.5 340.0 991.0 339.38 992.25 340.0 993.5 341.88 995.38 342.5 997.25 341.88 998.5 340.0 1000.0 338.75 1001.0 336.25 1002.25 334.38 1004.75 332.5" stroke="#0080ff" stroke-width="1" fill="none" stroke-linejoin="round" shape-rendering="crispEdges"/>
<path d="M56.0 378.75 57.75 373.75 58.75 373.12 59.62 377.5 60.88 382.5 62.12 388.12 64.0 392.5 65.88 396.25 67.75 392.5 69.62 391.25 71.5 391.88 72.75 395.0 74.0 387.5 75.25 386.88 77.12 393.12 79.0 388.12 80.88 387.5 83.38 389.38 85.25 388.12 87.75 386.88 90.25 385.0 91.5 383.75 94.0 386.88 95.88 391.88 98.38 396.25 100.88 400.62 102.12 395.0 104.0 387.5 105.88 386.25 107.75 386.88 109.0 388.12 110.88 383.75 112.75 382.5 114.62 381.25 116.5 377.5 118.38 376.25 120.25 378.12 122.12 372.5 123.38 365.0 124.62 353.75 126.5 345.62 127.75 347.5 129.0 352.5 130.25 361.25 131.5 368.75 133.38 373.12 135.25 369.38 137.75 370.62 139.62 371.88 141.5 372.25 142.75 372.75 144.62 375.62 146.5 378.12 149.0 381.25 150.25 385.0 151.5 388.75 154.0 392.5 155.88 391.88 158.38 396.88 160.25 393.12 162.75 389.38 164.62 382.5 165.88 380.62 167.75 379.38 169.62 384.38 172.12 377.5 174.0 378.12 176.5 380.62 178.38 384.38 180.25 390.62 182.0 388.12 184.5 385.62 187.0 384.38 189.5 383.12 191.38 376.25 193.25 375.0 194.5 371.88 196.38 366.25 198.25 362.5 200.75 365.0 203.25 368.12 204.5 370.0 206.38 369.0 208.88 369.38 210.75 371.88 212.62 373.75 214.5 370.0 216.38 366.25 218.88 364.38 220.75 364.75 222.0 366.88 223.88 368.75 225.75 367.5 227.0 364.75 228.88 363.75 230.75 361.5 232.62 361.88 234.25 370.0 235.75 365.62 237.62 366.88 239.5 372.5 241.38 370.62 243.25 362.5 245.12 358.75 246.38 356.25 248.25 358.75 250.75 362.5 253.25 365.62 255.12 367.5 257.0 368.75 258.25 373.12 259.5 377.5 260.5 381.25 262.62 379.38 264.5 373.75 265.75 371.25 267.62 374.38 269.5 378.12 271.38 378.12 273.25 375.62 275.75 370.0 277.62 366.25 278.88 364.38 280.75 368.75 282.62 373.75 284.5 372.5 286.38 371.25 288.25 373.12 290.12 374.38 292.0 371.88 294.5 369.38 297.0 368.5 298.88 367.5 301.38 366.25 302.62 371.25 304.5 376.25 305.75 379.38 307.62 376.88 310.0 373.75 311.88 374.38 313.75 376.25 315.62 376.88 317.5 376.25 319.0 376.88 320.62 380.0 322.5 381.25 323.75 378.75 325.62 379.38 327.5 382.5 329.38 381.25 331.25 381.88 333.75 383.12 335.0 380.0 336.25 372.5 337.75 365.0 339.38 361.25 340.62 363.75 341.88 372.5 343.12 381.25 345.0 388.75 346.88 393.75 347.5 400.0 348.75 406.25 349.75 418.75 350.62 425.0 351.88 430.0 352.5 435.0 353.12 431.25 353.75 412.5 354.38 400.0 355.0 395.0 356.25 390.0 357.5 386.88 359.38 388.12 361.25 391.25 363.12 391.88 365.0 390.62 366.88 385.0 368.12 381.25 369.75 378.5 371.25 380.0 373.12 383.75 374.38 376.25 375.25 366.25 376.0 356.25 376.88 338.75 377.75 328.75 378.38 323.75 379.0 331.25 380.0 336.25 381.0 351.25 381.88 357.5 383.12 372.5 384.38 378.12 386.25 375.0 388.5 372.5 390.0 377.5 391.88 382.5 393.75 387.5 395.62 388.75 397.5 388.12 399.38 386.88 401.25 387.5 403.12 388.75 405.0 391.25 406.25 395.0 407.5 398.75 409.38 401.25 411.25 401.88 413.12 403.12 415.0 405.0 416.88 406.25 418.75 403.75 420.62 401.25 422.5 400.62 424.38 401.25 426.25 403.12 428.12 405.62 430.0 408.75 431.88 411.25 433.75 409.38 435.62 406.88 438.0 407.25 439.88 406.88 441.5 400.0 443.25 396.25 444.88 397.5 446.5 403.75 448.0 409.38 449.88 403.75 451.75 398.75 453.62 396.5 455.5 397.5 457.38 401.25 459.25 407.5 461.12 412.5 462.38 415.0 463.25 407.5 464.0 398.75 465.25 395.0 466.75 391.88 468.25 390.62 469.5 386.88 470.75 380.0 471.75 375.0 473.0 372.5 474.25 371.88 475.75 374.38 477.38 378.75 478.62 381.88 480.5 380.0 482.38 376.25 483.62 371.25 484.5 366.25 485.76 357.5 486.76 355.62 488.63 357.5 490.51 360.0 492.01 359.38 493.63 358.5 495.51 357.5 497.38 356.25 499.26 355.0 501.13 354.38 503.01 353.5 504.88 355.0 506.76 353.12 508.01 353.12 509.26 355.62 511.13 360.0 513.01 364.38 514.88 364.38 516.76 362.5 518.63 363.75 521.13 363.75 523.01 364.75 524.88 366.88 526.76 369.38 528.63 371.25 530.26 369.38 531.51 368.12 533.01 371.25 534.88 375.0 536.76 378.75 538.01 380.0 539.88 378.75 541.76 376.88 543.63 373.75 545.51 370.0 547.38 367.5 549.26 368.75 551.13 370.62 553.01 371.25 554.88 370.0 556.76 368.12 558.63 366.25 560.51 365.62 562.38 364.38 564.26 361.88 566.0 360.0 567.88 361.88 569.75 361.25 571.62 360.0 573.5 359.75 575.38 359.0 577.25 358.75 579.12 358.12 581.0 357.5 582.25 356.25 583.5 354.38 585.38 353.12 587.25 352.75 589.12 352.25 591.0 352.75 592.88 353.5 594.75 354.38 596.62 355.0 598.5 355.0 600.38 354.75 602.25 355.62 603.5 356.88 604.75 352.5 606.0 349.38 607.88 349.38 609.75 351.25 611.62 353.12 613.5 355.0 615.38 357.5 617.25 360.0 619.12 363.12 620.38 365.0 621.25 370.0 622.0 376.25 622.88 390.0 624.12 405.0 625.38 421.25 626.25 408.75 627.25 390.0 628.5 380.0 629.75 370.0 631.0 362.5 632.25 357.5 634.12 353.12 635.38 351.88 636.62 355.0 638.5 358.75 639.75 362.5 641.0 358.75 642.25 355.0 643.5 352.5 644.75 351.25 646.0 355.62 647.25 360.0 648.5 356.25 649.75 352.5 650.75 345.0 651.62 326.25 652.25 300.0 653.5 293.75 655.38 291.88 656.62 293.12 657.25 312.5 657.88 332.5 658.75 348.75 659.75 355.0 661.0 358.75 662.88 360.0 664.75 360.62 666.62 359.38 667.88 357.5 669.75 359.38 671.62 361.88 672.88 363.12 674.75 358.75 676.62 355.62 678.5 356.25 680.38 357.5 682.25 358.12 684.12 355.0 685.75 353.75 687.25 356.25 689.12 353.75 691.0 353.12 692.88 353.12 694.0 351.25 695.5 347.5 697.12 345.0 699.0 343.5 700.25 346.25 701.75 350.0 703.38 351.5 705.0 349.38 706.5 347.75 708.38 349.38 710.25 348.5 712.12 346.88 714.0 343.75 715.88 341.25 717.75 341.88 719.0 345.62 720.25 351.25 721.5 355.0 723.0 356.25 725.0 358.12 726.25 353.75 727.12 346.25 727.75 331.25 728.38 320.0 729.25 302.5 729.62 292.5 730.25 271.25 731.25 265.62 732.12 261.25 732.75 272.5 733.38 285.0 734.0 315.0 734.38 356.25 734.88 340.0 735.5 315.0 736.25 263.75 736.75 263.12 737.5 226.88 737.75 257.5 738.0 278.12 738.5 315.0 739.0 386.0 739.26 420.0 739.63 450.0 740.51 452.5 740.88 491.25 741.51 492.5 741.52 512.5 742.52 518.75 744.02 521.88 745.89 523.12 747.77 522.25 750.02 523.75 751.52 528.75 752.77 537.5 754.02 545.0 755.27 550.0 757.14 553.75 758.02 550.0 758.77 549.38 760.27 551.25 762.14 553.75 764.02 555.62 765.89 555.62 767.14 558.75 768.02 561.25 769.02 561.25 769.64 553.75 770.52 537.5 771.27 530.0 772.52 531.88 773.39 538.75 774.27 548.75 775.27 549.38 777.14 548.12 779.02 547.5 780.52 546.25 782.14 540.0 783.39 536.25 784.64 540.0 786.27 545.0 788.02 548.12 789.64 545.62 791.27 543.75 792.77 545.0 794.02 542.5 795.52 535.0 797.14 536.25 799.02 538.75 800.89 541.88 802.52 543.75 804.02 539.38 805.27 538.75 806.52 540.62 808.02 538.75 809.02 541.25 810.27 548.12 811.27 537.5 812.52 535.62 813.39 534.38 814.64 542.5 815.89 548.75 817.14 555.0 818.02 560.0 819.02 555.0 820.52 551.88 822.0 551.25 823.88 551.5 825.5 556.88 826.75 547.5 828.0 540.0 829.25 532.5 830.5 522.5 831.75 510.0 832.5 505.0 833.5 508.75 834.5 515.0 835.75 522.5 836.75 527.5 838.0 523.75 839.5 519.38 841.0 520.0 842.62 525.0 844.5 527.5 846.38 529.38 848.0 525.62 849.5 518.75 851.0 511.25 852.62 503.12 854.25 499.38 855.75 499.75 857.62 502.5 859.5 500.62 861.38 496.25 863.0 493.75 864.5 493.75 866.0 496.88 867.62 503.75 868.88 510.0 869.75 513.75 871.38 511.25 873.25 509.38 875.12 508.75 877.0 506.25 878.88 505.0 880.75 503.75 882.62 500.0 884.5 500.25 886.38 501.25 888.25 503.75 890.12 503.12 892.0 500.62 893.88 496.88 895.75 491.25 897.0 487.5 898.25 484.75 899.75 488.75 901.38 493.75 902.62 502.5 903.5 518.12 904.25 512.5 905.5 502.5 906.75 507.5 908.25 509.38 909.5 505.62 910.75 500.0 912.0 504.38 913.25 488.12 914.25 495.0 915.5 513.12 916.38 508.75 917.62 504.38 919.5 503.75 920.75 505.0 922.62 500.0 924.5 492.5 925.75 497.5 927.25 503.75 928.88 510.0 930.12 513.75 931.38 519.38 932.62 510.0 933.25 503.75 934.25 508.75 935.12 520.0 936.38 516.25 938.0 510.0 939.5 505.0 940.5 499.38 941.38 506.25 942.62 517.5 943.88 525.0 945.12 520.62 946.75 523.75 948.25 527.5 949.5 532.5 949.75 531.5 951.62 535.88 952.5 534.0 953.5 526.5 954.5 519.0 955.38 511.5 956.62 504.0 957.88 503.75 959.75 505.88 961.62 507.12 963.5 506.5 964.75 505.88 966.0 511.5 966.62 513.38 967.88 510.25 969.12 506.5 970.38 502.75 972.25 502.12 973.5 500.25 974.75 495.25 976.0 489.0 977.0 481.5 977.88 476.5 979.12 478.38 980.0 482.75 981.0 491.5 982.25 499.0 983.5 502.75 984.75 505.25 986.0 504.62 987.25 503.38 989.12 504.62 991.0 505.25 992.25 506.5 994.12 507.12 996.0 508.38 997.25 507.75 998.5 506.5 1000.38 506.5 1002.25 505.88 1003.75 504.0 1004.75 502.12" stroke="#c000ff" stroke-width="1" fill="none" stroke-linejoin="round" shape-rendering="crispEdges"/>
<path d="M56.0 377.5 57.12 376.88 58.38 377.5 59.62 381.25 60.88 384.38 62.75 389.38 64.62 388.75 66.5 386.88 68.38 388.12 70.25 389.38 72.12 388.12 73.38 382.5 75.25 381.25 77.12 380.62 79.0 379.38 80.5 373.12 82.12 375.62 84.0 377.5 86.5 379.38 89.0 381.25 91.5 383.75 93.38 386.25 95.25 392.5 97.12 400.0 98.38 407.5 100.25 404.38 102.12 396.25 104.0 393.75 105.88 391.88 107.75 390.62 110.25 388.12 112.12 389.38 114.0 390.62 115.88 386.25 117.75 385.0 120.25 382.5 122.12 377.5 123.38 372.5 124.62 365.0 126.25 364.38 127.75 368.75 129.0 377.5 130.25 384.38 131.5 382.5 133.38 380.0 135.25 383.12 137.12 384.38 139.0 385.62 141.5 386.88 144.0 388.75 145.88 391.25 147.75 391.88 149.62 391.25 151.5 389.38 152.75 388.75 154.0 390.62 155.88 393.12 157.75 393.75 159.62 393.12 161.5 391.25 163.38 390.0 165.25 389.38 167.12 390.0 169.0 388.12 170.88 389.38 173.38 387.5 175.25 387.5 177.12 388.75 179.0 391.88 181.5 390.62 182.0 390.0 183.25 387.5 184.5 383.75 186.38 386.25 188.25 390.0 190.12 393.12 191.38 395.0 193.25 393.75 195.12 393.12 197.0 387.5 198.88 389.38 200.75 388.5 202.62 388.12 205.12 388.75 207.62 386.88 209.5 385.62 211.38 383.12 213.88 380.0 215.75 380.0 218.25 380.0 220.75 378.75 222.62 379.38 224.5 377.5 226.0 376.25 227.62 377.5 229.5 380.0 231.38 379.38 233.25 378.12 235.5 376.25 237.62 378.75 239.5 379.75 241.38 378.75 243.25 376.25 245.12 372.5 247.0 373.12 248.88 376.88 250.75 380.62 252.62 381.88 254.5 382.5 257.0 385.0 258.88 385.62 260.12 388.12 262.0 385.62 264.5 381.88 266.38 380.0 268.25 381.88 270.12 385.0 272.0 386.25 274.5 388.75 277.0 387.5 278.88 386.88 281.38 385.25 283.25 386.5 285.12 388.75 287.0 386.88 288.88 386.5 290.75 385.62 293.88 382.75 295.75 381.25 297.62 378.5 299.5 379.75 301.38 380.0 303.25 382.5 305.12 383.12 307.0 381.88 308.88 378.75 310.0 377.5 311.25 377.2 313.1 378.4 315.3 375.3 317.2 377.2 318.75 379.0 320.6 380.0 322.2 383.4 323.75 383.1 325.6 383.4 328.1 386.25 330.3 387.5 331.9 386.1 333.1 386.9 334.4 390.5 335.9 389.1 338.75 389.1 340.0 391.1 341.9 391.9 343.75 395.0 345.3 398.1 346.5 394.0 347.5 398.0 348.1 407.5 349.38 412.5 350.26 425.0 351.26 432.5 352.26 440.0 352.76 435.0 353.51 425.0 354.38 412.5 355.26 400.0 356.26 396.25 357.51 395.0 359.38 393.75 361.26 392.5 363.13 391.88 365.01 390.0 366.88 383.75 368.13 381.25 369.76 378.75 371.26 380.0 373.13 382.5 374.38 375.0 375.01 363.75 376.01 345.0 376.88 333.75 377.76 328.12 378.76 328.75 379.76 332.5 380.63 345.0 381.26 355.0 382.26 367.5 383.13 373.75 384.38 376.25 386.26 374.38 388.13 372.5 389.38 375.0 391.26 380.0 393.13 383.75 395.01 385.62 396.88 385.0 398.76 383.75 400.63 383.12 402.51 384.38 404.38 385.62 406.26 387.5 408.13 391.25 410.01 393.12 411.88 392.5 413.76 390.62 415.63 393.12 417.51 395.0 419.38 390.0 421.01 385.0 422.26 381.88 423.76 385.0 425.63 390.0 428.13 391.88 430.63 393.12 433.13 391.25 435.01 389.38 436.88 388.12 438.0 390.62 439.88 390.62 441.5 386.25 443.25 380.62 444.88 385.0 446.5 392.5 448.25 396.88 449.88 393.75 451.75 390.62 453.62 389.75 455.5 390.0 457.38 393.75 459.25 396.25 461.12 398.12 462.75 396.25 463.62 391.25 464.5 388.12 466.12 385.62 468.0 386.88 469.88 388.12 471.5 382.5 473.0 378.75 474.25 376.25 475.5 375.0 476.75 379.38 478.25 385.62 479.88 386.88 481.75 386.88 483.62 383.12 485.5 378.12 487.38 374.38 489.0 376.25 490.5 380.0 491.75 383.75 493.25 388.12 494.5 390.62 496.12 388.75 498.0 386.88 499.88 385.0 501.75 387.5 503.62 389.38 505.5 386.25 506.75 383.12 508.0 386.88 509.25 388.12 510.5 385.0 512.38 379.38 513.62 383.12 515.5 385.0 517.38 384.38 519.25 383.75 521.12 382.5 522.75 381.25 524.25 383.75 526.12 385.0 528.0 383.12 529.88 386.88 531.75 388.75 533.62 388.12 535.5 390.62 537.38 394.38 538.62 399.38 540.5 396.25 542.38 394.38 544.25 393.12 546.12 394.38 548.0 395.62 549.88 392.5 551.75 393.75 553.62 395.0 555.5 394.38 557.38 392.75 559.25 391.88 561.12 390.62 563.0 391.88 564.5 390.0 566.0 390.62 567.88 393.75 569.75 395.62 571.62 397.5 573.5 398.75 575.38 396.88 577.25 394.38 579.12 392.5 580.38 394.38 581.62 397.5 582.88 395.0 584.75 393.75 586.62 392.5 588.5 391.25 590.38 390.0 592.25 390.62 594.12 391.25 596.0 392.5 597.88 391.25 599.75 390.62 601.62 390.0 603.5 391.25 605.38 388.75 606.62 386.88 607.88 388.75 609.75 387.5 611.62 386.25 613.5 388.12 615.38 390.62 617.25 393.12 619.12 395.62 621.0 397.5 622.25 401.25 623.25 408.75 623.88 417.5 624.5 430.0 625.38 446.25 626.0 460.62 627.0 450.0 627.88 440.0 628.75 427.5 629.75 415.0 630.75 405.0 631.62 398.75 632.88 396.88 634.12 397.5 636.0 397.25 637.88 398.12 639.75 398.75 641.62 398.75 642.88 395.0 644.12 391.88 646.0 388.75 647.88 386.25 649.5 383.12 650.38 373.75 651.25 357.5 652.0 338.75 652.88 326.25 653.5 318.75 654.75 320.0 655.75 332.5 656.62 351.25 657.5 367.5 658.5 378.75 659.5 386.25 661.0 389.38 662.88 391.25 664.75 391.88 666.62 390.62 668.5 392.5 670.38 394.38 672.25 395.0 674.12 392.5 676.0 393.12 677.88 395.62 679.75 397.5 681.62 398.12 683.5 399.38 685.38 400.62 687.25 401.25 688.5 395.0 689.75 390.0 690.38 396.25 691.62 405.0 692.25 396.25 692.88 390.0 694.0 394.38 694.62 390.0 695.88 388.12 697.5 387.5 699.62 389.38 702.12 391.25 704.0 385.62 705.88 383.75 707.75 382.75 709.62 385.0 710.88 387.5 712.12 385.62 714.0 381.88 715.88 380.62 717.75 381.25 719.62 382.5 721.5 385.62 723.38 388.12 725.25 391.25 727.12 391.88 729.0 393.75 730.88 390.62 732.75 387.5 734.62 386.88 736.5 386.88 738.38 389.38 740.25 390.0 742.12 392.5 744.0 391.88 745.88 391.25 747.75 391.25 749.62 390.62 751.5 387.5 753.38 387.5 755.25 388.12 756.5 390.0 758.38 389.75 760.25 390.62 762.12 391.25 764.0 393.75 765.88 396.88 767.75 399.38 769.0 401.25 770.5 396.25 772.12 392.5 773.75 390.0 775.25 389.38 776.75 393.12 778.38 395.62 780.25 395.0 782.12 393.75 784.0 396.25 785.88 398.75 787.5 401.0 789.0 398.75 790.88 395.62 792.75 392.5 794.62 389.38 796.5 391.25 798.38 393.12 800.25 395.62 801.5 393.75 802.5 380.0 803.38 382.5 804.25 387.5 805.25 390.0 807.12 391.25 809.0 391.88 810.88 392.5 812.75 393.12 814.62 395.0 816.5 397.5 818.0 398.12 819.62 396.88 820.88 395.0 822.0 394.38 823.88 398.12 825.75 396.25 827.25 394.38 828.25 383.75 829.5 376.25 831.0 367.5 832.0 368.75 833.25 375.0 834.5 382.5 836.38 385.62 838.25 388.12 840.12 388.75 842.0 387.5 843.5 386.25 845.12 388.12 847.0 390.62 848.5 393.12 850.12 391.25 851.75 393.12 853.25 392.5 855.12 391.25 857.0 393.12 858.88 395.0 860.75 396.88 862.62 397.5 863.88 396.88 865.12 399.38 866.75 402.5 868.25 406.25 869.5 408.75 870.75 407.5 872.0 403.75 873.88 400.62 875.75 398.12 877.62 396.25 879.5 395.0 881.0 393.75 882.62 394.38 884.5 395.0 886.38 394.38 888.25 390.62 889.5 388.12 890.75 390.0 892.0 389.38 893.88 385.62 895.75 381.25 897.0 377.5 897.62 345.0 898.25 332.5 898.88 357.5 899.5 377.5 900.75 387.5 902.62 389.38 904.5 390.0 907.0 392.5 908.88 395.0 910.75 398.12 912.62 398.12 914.5 398.12 916.38 398.12 918.25 397.5 920.12 396.88 922.0 395.62 923.88 396.88 925.75 397.5 927.62 399.38 928.88 401.25 930.75 398.75 932.62 400.0 934.5 401.25 936.0 404.38 937.62 401.25 939.5 400.62 941.38 400.62 943.25 402.5 945.12 404.38 947.0 406.25 948.25 408.75 949.5 412.5 950.38 418.75 951.62 425.0 952.5 428.75 953.5 425.0 954.75 420.0 956.0 413.75 957.25 410.0 959.12 408.75 961.0 406.88 963.25 404.38 964.75 407.5 966.25 410.0 967.88 408.12 969.75 406.88 971.62 406.25 972.88 403.75 974.5 400.0 976.0 395.0 977.25 387.5 978.5 382.5 979.5 378.12 980.38 381.25 981.62 387.5 982.5 393.75 983.5 396.88 985.38 399.38 987.25 400.0 989.12 398.75 990.75 397.25 992.5 398.12 993.5 401.25 994.5 406.88 996.0 405.0 997.88 403.12 999.75 401.25 1001.0 400.0 1002.25 400.62 1003.5 401.88 1004.75 399.38" stroke="#00eeee" stroke-width="1" fill="none" stroke-linejoin="round" shape-rendering="crispEdges"/>
</svg></body></html>
